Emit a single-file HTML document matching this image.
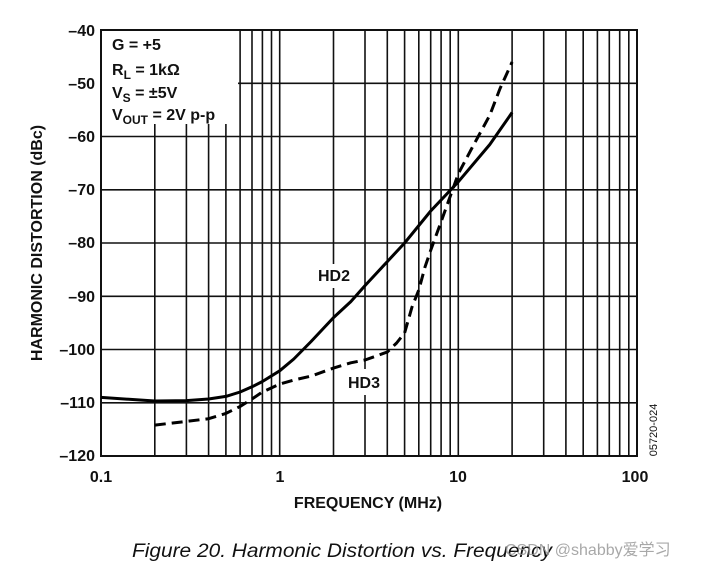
<!DOCTYPE html>
<html><head><meta charset="utf-8"><style>
body{margin:0;background:#fff;}
svg text{font-family:"Liberation Sans",sans-serif;font-weight:bold;fill:#111;}
</style></head><body>
<svg width="712" height="568" xmlns="http://www.w3.org/2000/svg">
<g stroke="#111" stroke-width="1.6">
<line x1="154.8" y1="30" x2="154.8" y2="456"/><line x1="186.4" y1="30" x2="186.4" y2="456"/>
<line x1="208.6" y1="30" x2="208.6" y2="456"/><line x1="225.9" y1="30" x2="225.9" y2="456"/>
<line x1="240.1" y1="30" x2="240.1" y2="456"/><line x1="252.0" y1="30" x2="252.0" y2="456"/>
<line x1="262.4" y1="30" x2="262.4" y2="456"/><line x1="271.5" y1="30" x2="271.5" y2="456"/>
<line x1="279.7" y1="30" x2="279.7" y2="456"/>
<line x1="333.5" y1="30" x2="333.5" y2="456"/><line x1="365.0" y1="30" x2="365.0" y2="456"/>
<line x1="387.3" y1="30" x2="387.3" y2="456"/><line x1="404.6" y1="30" x2="404.6" y2="456"/>
<line x1="418.8" y1="30" x2="418.8" y2="456"/><line x1="430.7" y1="30" x2="430.7" y2="456"/>
<line x1="441.1" y1="30" x2="441.1" y2="456"/><line x1="450.2" y1="30" x2="450.2" y2="456"/>
<line x1="458.3" y1="30" x2="458.3" y2="456"/>
<line x1="512.1" y1="30" x2="512.1" y2="456"/><line x1="543.7" y1="30" x2="543.7" y2="456"/>
<line x1="565.9" y1="30" x2="565.9" y2="456"/><line x1="583.2" y1="30" x2="583.2" y2="456"/>
<line x1="597.4" y1="30" x2="597.4" y2="456"/><line x1="609.3" y1="30" x2="609.3" y2="456"/>
<line x1="619.7" y1="30" x2="619.7" y2="456"/><line x1="628.8" y1="30" x2="628.8" y2="456"/>
<line x1="101" y1="83.3" x2="637" y2="83.3"/><line x1="101" y1="136.5" x2="637" y2="136.5"/>
<line x1="101" y1="189.8" x2="637" y2="189.8"/><line x1="101" y1="243" x2="637" y2="243"/>
<line x1="101" y1="296.3" x2="637" y2="296.3"/><line x1="101" y1="349.5" x2="637" y2="349.5"/>
<line x1="101" y1="402.8" x2="637" y2="402.8"/>
</g>
<rect x="102" y="31" width="136" height="93" fill="#fff"/>
<rect x="316" y="264" width="38" height="24" fill="#fff"/>
<rect x="346" y="369" width="38" height="26" fill="#fff"/>
<rect x="101" y="30" width="536" height="426" fill="none" stroke="#111" stroke-width="2"/>
<polyline fill="none" stroke="#000" stroke-width="3" stroke-linejoin="round" points="101,397.4 154.8,401 186.4,400.6 208.6,399 225.9,396.4 240.1,392 252,386.8 262.4,381.5 279.7,370.8 293.8,359 311.1,341.5 333.5,317.6 350.8,301.6 365,285.6 387.3,261.6 404.6,243 430.7,211 458.3,181.8 489.8,144.5 512.1,112.5"/>
<polyline fill="none" stroke="#000" stroke-width="3" stroke-dasharray="11,6" stroke-linejoin="round" points="154.8,425.1 186.4,421.4 208.6,418.7 225.9,413.4 240.1,406.5 252,399 262.4,392 279.7,384.1 293.8,380 311.1,376.1 333.5,368.1 350.8,362.8 365,360 387.3,352 396.6,343 404.6,333 412,307 418.8,290 425,267 430.7,250.3 441.1,221.7 458.3,173.8 472.5,147 489.8,115.2 500,88.6 512.1,62"/>
<text x="334" y="281" font-size="16" text-anchor="middle">HD2</text>
<text x="364" y="388" font-size="16" text-anchor="middle">HD3</text>
<g font-size="16">
<text x="112" y="50">G = +5</text>
<text x="112" y="75">R<tspan font-size="12" dy="4">L</tspan><tspan dy="-4"> = 1kΩ</tspan></text>
<text x="112" y="98">V<tspan font-size="12" dy="4">S</tspan><tspan dy="-4"> = ±5V</tspan></text>
<text x="112" y="120">V<tspan font-size="12" dy="4">OUT</tspan><tspan dy="-4"> = 2V p-p</tspan></text>
</g>
<g font-size="16" text-anchor="end">
<text x="95" y="36">–40</text><text x="95" y="89">–50</text><text x="95" y="142">–60</text>
<text x="95" y="195">–70</text><text x="95" y="248">–80</text><text x="95" y="302">–90</text>
<text x="95" y="355">–100</text><text x="95" y="408">–110</text><text x="95" y="461">–120</text>
</g>
<g font-size="16" text-anchor="middle">
<text x="101" y="482">0.1</text><text x="280" y="482">1</text><text x="458" y="482">10</text><text x="635" y="482">100</text>
<text x="368" y="508">FREQUENCY (MHz)</text>
</g>
<text transform="translate(42,243) rotate(-90)" font-size="16" text-anchor="middle">HARMONIC DISTORTION (dBc)</text>
<text transform="translate(657,430) rotate(-90)" font-size="11" style="font-weight:normal" text-anchor="middle">05720-024</text>
<text x="342" y="557" font-size="19" font-style="italic" style="font-weight:normal" text-anchor="middle" textLength="420" lengthAdjust="spacingAndGlyphs">Figure 20. Harmonic Distortion vs. Frequency</text>
<text x="505" y="555" font-size="16" style="font-weight:normal;font-family:'Liberation Sans','Noto Sans CJK SC',sans-serif;fill:#999;opacity:0.85">CSDN @shabby爱学习</text>
</svg>
</body></html>
